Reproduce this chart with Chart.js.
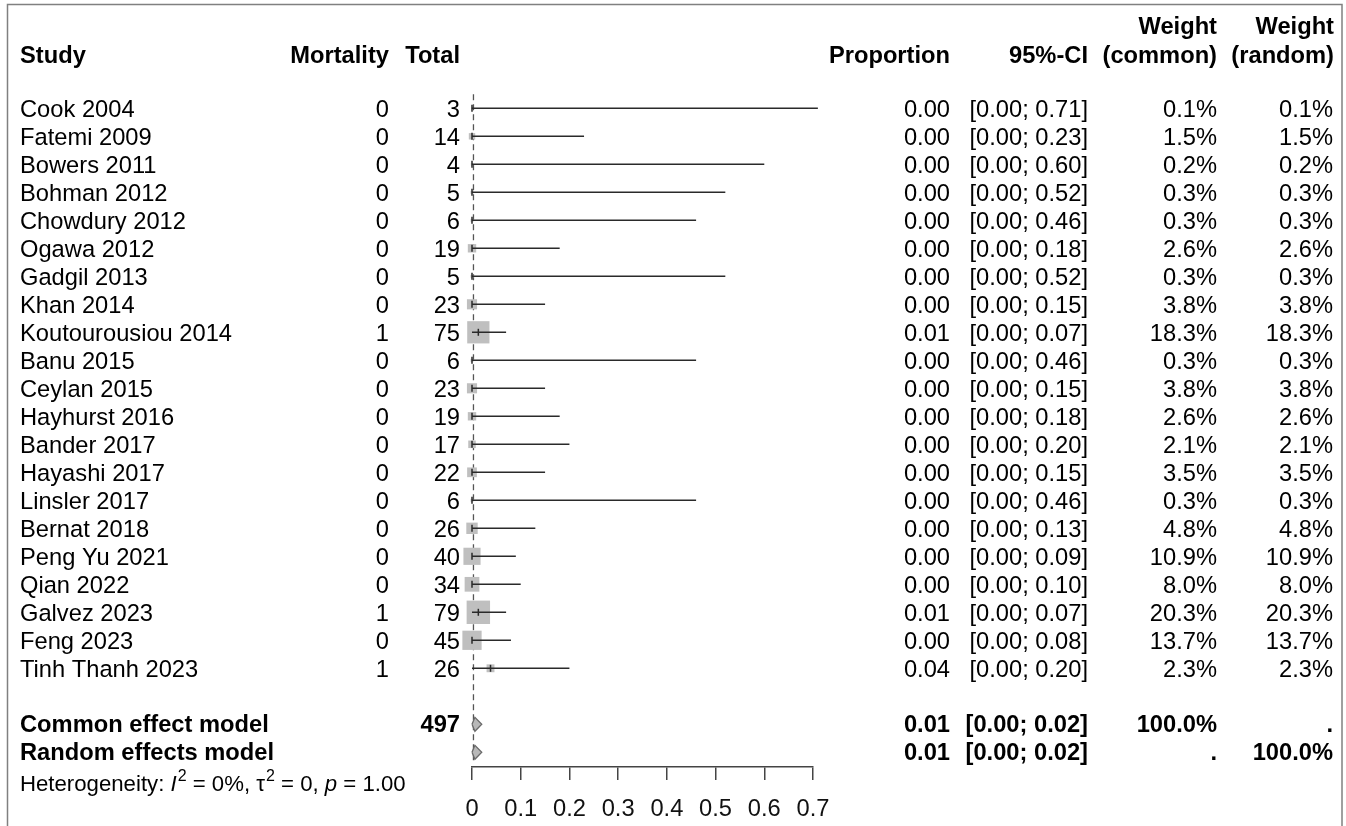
<!DOCTYPE html>
<html>
<head>
<meta charset="utf-8">
<script src="https://cdn.jsdelivr.net/npm/chart.js@4.4.1/dist/chart.umd.min.js"></script>
<style>
html,body{margin:0;padding:0;background:#fff;overflow:hidden}
#wrap{width:1346px;height:826px;position:relative}
canvas{display:block}
</style>
</head>
<body>
<div id="wrap"><canvas id="c" width="1346" height="826"></canvas></div>
<script>
// ---------- data ----------
const studies = ['Cook 2004','Fatemi 2009','Bowers 2011','Bohman 2012','Chowdury 2012','Ogawa 2012','Gadgil 2013','Khan 2014','Koutourousiou 2014','Banu 2015','Ceylan 2015','Hayhurst 2016','Bander 2017','Hayashi 2017','Linsler 2017','Bernat 2018','Peng Yu 2021','Qian 2022','Galvez 2023','Feng 2023','Tinh Thanh 2023'];
const mortality = [0,0,0,0,0,0,0,0,1,0,0,0,0,0,0,0,0,0,1,0,1];
const totals = [3,14,4,5,6,19,5,23,75,6,23,19,17,22,6,26,40,34,79,45,26];
const proportions = [0,0,0,0,0,0,0,0,0.013,0,0,0,0,0,0,0,0,0,0.013,0,0.038];
const ciLower = [0,0,0,0,0,0,0,0,0,0,0,0,0,0,0,0,0,0,0,0,0];
const ciUpper = [0.71,0.23,0.60,0.52,0.46,0.18,0.52,0.15,0.07,0.46,0.15,0.18,0.20,0.15,0.46,0.13,0.09,0.10,0.07,0.08,0.20];
const weightCommon = [0.1,1.5,0.2,0.3,0.3,2.6,0.3,3.8,18.3,0.3,3.8,2.6,2.1,3.5,0.3,4.8,10.9,8.0,20.3,13.7,2.3];
const weightRandom = [0.1,1.5,0.2,0.3,0.3,2.6,0.3,3.8,18.3,0.3,3.8,2.6,2.1,3.5,0.3,4.8,10.9,8.0,20.3,13.7,2.3];

const summaryLabels = ['Common effect model','Random effects model'];
const summaryTotal = ['497',''];
const summaryEst = [0.006,0.006];
const summaryLower = [0.00,0.00];
const summaryUpper = [0.02,0.02];
const summaryPropText = ['0.01','0.01'];
const summaryWeightCommon = ['100.0%','.'];
const summaryWeightRandom = ['.','100.0%'];
const summaryRows = [22,23];
const refLineX = 0.003;

const heterogeneity = {I2:'0%', tau2:'0', p:'1.00'};
const xTicks = [0,0.1,0.2,0.3,0.4,0.5,0.6,0.7];
const xTickLabels = ['0','0.1','0.2','0.3','0.4','0.5','0.6','0.7'];

const headers = {study:'Study', mort:'Mortality', total:'Total', prop:'Proportion', ci:'95%-CI', w1a:'Weight', w1b:'(common)', w2a:'Weight', w2b:'(random)'};

// ---------- datasets ----------
const FONT = "'Liberation Sans', Arial, sans-serif";
const FS = 23.7;
const LINE = '#2a2a2a';

const datasets = [];
// estimate ticks (on top)
datasets.push({
  data: studies.map((s,i)=>({x:proportions[i], y:i})),
  pointStyle:'line', rotation:90, pointRadius:3.5,
  borderColor:LINE, borderWidth:1.5, showLine:false, clip:false
});
// CI lines
studies.forEach((s,i)=>{
  datasets.push({
    data:[{x:ciLower[i],y:i},{x:ciUpper[i],y:i}],
    showLine:true, pointRadius:0, borderColor:LINE, borderWidth:1.4, fill:false, clip:false
  });
});
// boxes
datasets.push({
  data: studies.map((s,i)=>({x:proportions[i], y:i})),
  pointStyle:'rect',
  pointRadius: weightCommon.map(w => 5.2*Math.sqrt(w)/Math.SQRT2),
  backgroundColor:'#bfbfbf', borderWidth:0, showLine:false, clip:false
});
// diamonds
summaryRows.forEach((r,k)=>{
  datasets.push({
    data:[{x:summaryLower[k],y:r},{x:summaryEst[k],y:r-0.25},{x:summaryUpper[k],y:r},{x:summaryEst[k],y:r+0.25},{x:summaryLower[k],y:r}],
    showLine:true, pointRadius:0, borderColor:'#6a6a6a', borderWidth:1.3,
    backgroundColor:'#b8b8b8', fill:'shape', clip:false
  });
});
// dashed reference line (bottom)
datasets.push({
  data:[{x:refLineX,y:-0.5},{x:refLineX,y:23.3}],
  showLine:true, pointRadius:0, borderColor:'#555', borderWidth:1.3, borderDash:[6,4], fill:false, clip:false
});

// ---------- plugins ----------
const framePlugin = {
  id:'frame',
  beforeDraw(chart){
    const ctx = chart.ctx;
    ctx.save();
    ctx.fillStyle = '#fff';
    ctx.fillRect(0,0,chart.width,chart.height);
    ctx.strokeStyle = '#808080';
    ctx.lineWidth = 1.5;
    ctx.strokeRect(7.5,4.5,1334.5,900);
    ctx.restore();
  }
};

const tablePlugin = {
  id:'table',
  afterDraw(chart){
    const ctx = chart.ctx, ys = chart.scales.y;
    ctx.save();
    ctx.fillStyle = '#000';
    ctx.textBaseline = 'alphabetic';
    function t(s,x,y,align,bold,size,style){
      ctx.font = (style?style+' ':'') + (bold?'bold ':'') + (size||FS) + 'px ' + FONT;
      ctx.textAlign = align;
      ctx.fillText(s,x,y);
    }
    const colMort = 389, colTotal = 460, colProp = 950, colCI = 1088, colW1 = 1217, colW2 = 1333, colStudy = 20;
    // headers
    const hb = 62.5, ht = 33.5;
    t(headers.study, colStudy, hb, 'left', true);
    t(headers.mort, colMort, hb, 'right', true);
    t(headers.total, colTotal, hb, 'right', true);
    t(headers.prop, colProp, hb, 'right', true);
    t(headers.ci, colCI, hb, 'right', true);
    t(headers.w1a, colW1, ht, 'right', true);
    t(headers.w1b, colW1, hb, 'right', true);
    t(headers.w2a, colW2+1, ht, 'right', true);
    t(headers.w2b, colW2+1, hb, 'right', true);
    // study rows
    studies.forEach((s,i)=>{
      const y = ys.getPixelForValue(i) + 8.7;
      t(s, colStudy, y, 'left', false);
      t(String(mortality[i]), colMort, y, 'right', false);
      t(String(totals[i]), colTotal, y, 'right', false);
      t(proportions[i].toFixed(2), colProp, y, 'right', false);
      t('[' + ciLower[i].toFixed(2) + '; ' + ciUpper[i].toFixed(2) + ']', colCI, y, 'right', false);
      t(weightCommon[i].toFixed(1) + '%', colW1, y, 'right', false);
      t(weightRandom[i].toFixed(1) + '%', colW2, y, 'right', false);
    });
    // summary rows
    summaryRows.forEach((r,k)=>{
      const y = ys.getPixelForValue(r) + 8;
      t(summaryLabels[k], colStudy, y, 'left', true);
      if (summaryTotal[k]) t(summaryTotal[k], colTotal, y, 'right', true);
      t(summaryPropText[k], colProp, y, 'right', true);
      t('[' + summaryLower[k].toFixed(2) + '; ' + summaryUpper[k].toFixed(2) + ']', colCI, y, 'right', true);
      t(summaryWeightCommon[k], colW1, y, 'right', true);
      t(summaryWeightRandom[k], colW2, y, 'right', true);
    });
    // heterogeneity
    const hs = 22.2, sup = 16, hy = 791;
    let x = colStudy;
    const segs = [
      ['Heterogeneity: ', ''], ['I','italic'], ['2','sup'], [' = ' + heterogeneity.I2 + ', ', ''],
      ['\u03C4',''], ['2','sup'], [' = ' + heterogeneity.tau2 + ', ', ''], ['p','italic'], [' = ' + heterogeneity.p, '']
    ];
    ctx.textAlign = 'left';
    segs.forEach(([s,k])=>{
      if (k === 'sup') {
        ctx.font = sup + 'px ' + FONT;
        ctx.fillText(s, x + 1, hy - 10);
        x += ctx.measureText(s).width + 1;
      } else {
        ctx.font = (k==='italic'?'italic ':'') + hs + 'px ' + FONT;
        ctx.fillText(s, x, hy);
        x += ctx.measureText(s).width;
      }
    });
    ctx.restore();
  }
};

new Chart(document.getElementById('c'), {
  type:'scatter',
  data:{datasets},
  options:{
    responsive:false,
    devicePixelRatio:1,
    animation:false,
    events:[],
    layout:{padding:{left:472, right:533, top:94.3, bottom:0}},
    plugins:{legend:{display:false}, tooltip:{enabled:false}},
    scales:{
      x:{
        type:'linear', min:0, max:0.7,
        afterBuildTicks(scale){ scale.ticks = xTicks.map(v=>({value:v})); },
        afterFit(scale){ scale.height = 59; },
        ticks:{
          callback:(v,i)=>xTickLabels[i],
          color:'#111', font:{family:FONT, size:FS}, padding:15, maxRotation:0, autoSkip:false
        },
        grid:{display:true, drawOnChartArea:false, drawTicks:true, tickLength:13, color:'#444', lineWidth:1.5},
        border:{display:true, color:'#444', width:1.5}
      },
      y:{
        type:'linear', reverse:true, min:-0.5, max:23.525, display:false
      }
    }
  },
  plugins:[framePlugin, tablePlugin]
});
</script>
</body>
</html>
